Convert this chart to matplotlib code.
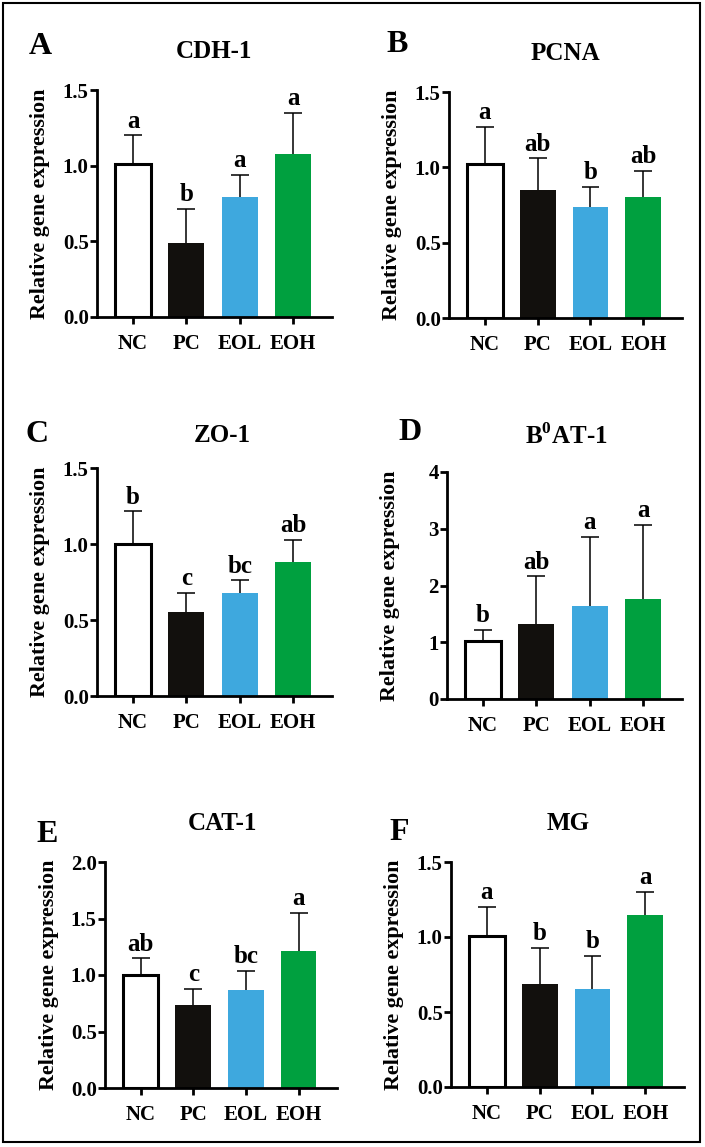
import matplotlib.pyplot as plt
from matplotlib.patches import Rectangle

plt.rcParams['font.family'] = 'Liberation Serif'
plt.rcParams['font.weight'] = 'bold'
plt.rcParams['mathtext.fontset'] = 'custom'
plt.rcParams['mathtext.rm'] = 'Liberation Serif:bold'
plt.rcParams['mathtext.bf'] = 'Liberation Serif:bold'

groups = ['NC', 'PC', 'EOL', 'EOH']
colors = ['white', '#12100d', '#3ea8de', '#00a03f']

panel_ids = ['A', 'B', 'C', 'D', 'E', 'F']
genes = ['CDH-1', 'PCNA', 'ZO-1', r'B$^{0}$AT-1', 'CAT-1', 'MG']

cdh1_mean = [1.01, 0.49, 0.79, 1.08]
cdh1_upper = [1.20, 0.715, 0.94, 1.35]
cdh1_sig = ['a', 'b', 'a', 'a']

pcna_mean = [1.02, 0.85, 0.74, 0.80]
pcna_upper = [1.27, 1.06, 0.87, 0.977]
pcna_sig = ['a', 'ab', 'b', 'ab']

zo1_mean = [1.00, 0.55, 0.68, 0.88]
zo1_upper = [1.215, 0.68, 0.76, 1.026]
zo1_sig = ['b', 'c', 'bc', 'ab']

b0at1_mean = [1.02, 1.32, 1.63, 1.76]
b0at1_upper = [1.22, 2.16, 2.85, 3.07]
b0at1_sig = ['b', 'ab', 'a', 'a']

cat1_mean = [1.00, 0.735, 0.87, 1.215]
cat1_upper = [1.147, 0.876, 1.035, 1.553]
cat1_sig = ['ab', 'c', 'bc', 'a']

mg_mean = [1.006, 0.69, 0.655, 1.146]
mg_upper = [1.20, 0.925, 0.875, 1.30]
mg_sig = ['a', 'b', 'b', 'a']

means = [cdh1_mean, pcna_mean, zo1_mean, b0at1_mean, cat1_mean, mg_mean]
uppers = [cdh1_upper, pcna_upper, zo1_upper, b0at1_upper, cat1_upper, mg_upper]
sigs = [cdh1_sig, pcna_sig, zo1_sig, b0at1_sig, cat1_sig, mg_sig]
yticks = [[0, 0.5, 1.0, 1.5], [0, 0.5, 1.0, 1.5], [0, 0.5, 1.0, 1.5],
          [0, 1, 2, 3, 4], [0, 0.5, 1.0, 1.5, 2.0], [0, 0.5, 1.0, 1.5]]
tick_fmt = ['%.1f', '%.1f', '%.1f', '%d', '%.1f', '%.1f']

W, H = 705, 1147
fig = plt.figure(figsize=(W / 100, H / 100), dpi=100)

# layout in pixels: axes left, bottom(y0), top, right ; letter xy ; title xy
ax_px = [(97, 317, 90, 332), (449, 318, 92, 682), (97, 696, 468, 332),
         (447, 699, 472, 682), (105, 1088, 862, 337), (451, 1087, 862, 684)]
letter_px = [(40, 47), (397, 45), (37, 435), (410, 433), (47, 835), (399, 833)]
title_px = [(214, 52), (565, 53), (222, 435), (566, 436), (222, 823), (568, 823)]

cap_half = 0.17
for i in range(6):
    l, b, t, r = ax_px[i]
    ax = fig.add_axes([l / W, 1 - b / H, (r - l) / W, (b - t) / H])
    x = list(range(4))
    m = means[i]
    up = uppers[i]
    # upper-only error bars
    ax.vlines(x, m, up, color='black', linewidth=1.1, zorder=1, clip_on=False)
    ax.hlines(up, [k - cap_half for k in x], [k + cap_half for k in x],
              color='black', linewidth=1.1, zorder=1, clip_on=False)
    ax.bar(x, m, width=0.68, color=colors, edgecolor=['black', colors[1], colors[2], colors[3]],
           linewidth=[2.2, 0, 0, 0], zorder=2)
    for j in range(4):
        ax.annotate(sigs[i][j], (j, up[j]), xytext=(0, 2), textcoords='offset points',
                    ha='center', va='bottom', fontsize=18, fontweight='bold', annotation_clip=False)
    ax.set_xlim(-0.675, 3.73)
    ax.set_ylim(yticks[i][0], yticks[i][-1])
    ax.set_yticks(yticks[i])
    ax.set_yticklabels([tick_fmt[i] % v for v in yticks[i]])
    ax.set_xticks(x)
    ax.set_xticklabels(groups)
    ax.spines['top'].set_visible(False)
    ax.spines['right'].set_visible(False)
    ax.spines['left'].set_linewidth(2)
    ax.spines['bottom'].set_linewidth(2)
    ax.tick_params(axis='both', direction='out', length=5, width=2, labelsize=15)
    ax.tick_params(axis='y', pad=1)
    ax.tick_params(axis='x', pad=7)
    ax.set_ylabel('Relative gene expression', fontsize=15.8, fontweight='bold')
    ax.yaxis.set_label_coords(-0.2, 0.5)

    lx, ly = letter_px[i]
    fig.text(lx / W, 1 - ly / H, panel_ids[i], fontsize=23, fontweight='bold',
             ha='center', va='center')
    tx, ty = title_px[i]
    fig.text(tx / W, 1 - ty / H, genes[i], fontsize=18, fontweight='bold',
             ha='center', va='center')

fig.patches.append(Rectangle((3 / W, 1 - 1142 / H), 697 / W, 1139 / H,
                             transform=fig.transFigure, fill=False,
                             edgecolor='black', linewidth=1.5))

fig.savefig('out.png', dpi=100)
